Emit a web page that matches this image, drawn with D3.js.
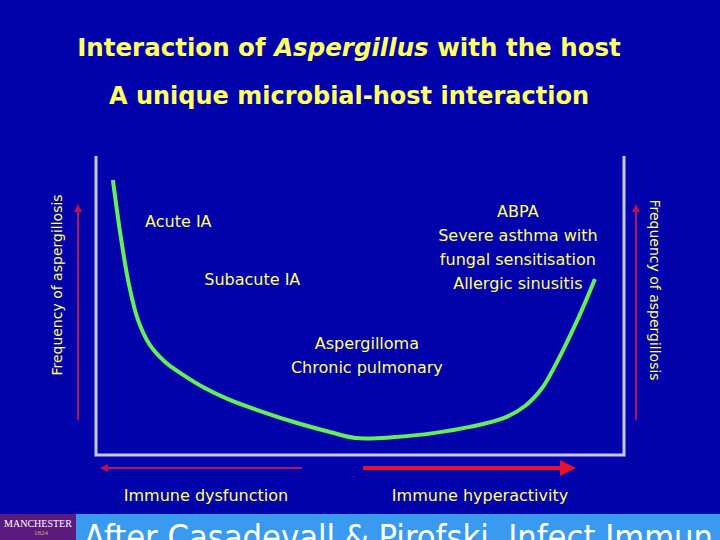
<!DOCTYPE html>
<html>
<head>
<meta charset="utf-8">
<script src="https://cdn.jsdelivr.net/npm/d3@7"></script>
<style>
  body { margin: 0; background: #0303ac; }
  svg { display: block; }
  text { font-family: "Comic Sans MS", "DejaVu Sans", sans-serif; fill: #ffff66; }
</style>
</head>
<body>
<div id="chart"></div>
<script>
// immune status (0 = dysfunction, 100 = hyperactivity) vs frequency of aspergillosis
var immuneStatus = [3.2, 4.7, 6.25, 7.95, 10.2, 13.1, 16.5, 20.6, 25.0, 31.1, 38.1, 44.3, 49.1,
                    56.6, 64.2, 70.8, 77.3, 81.25, 84.5, 87.1, 89.4, 91.7, 94.5];
var frequency = [92.0, 72.9, 56.9, 45.2, 36.8, 31.1, 26.8, 22.4, 18.7, 14.7, 10.7, 7.7, 5.7,
                 6.0, 7.4, 9.4, 12.4, 16.4, 22.4, 30.4, 38.5, 47.2, 58.9];

// disease labels: [x, y] in data units, lines of text, anchor
var diseaseLabels = [
  { x: 9.3, y: 78.3, lines: ["Acute IA"], anchor: "start" },
  { x: 20.5, y: 58.9, lines: ["Subacute IA"], anchor: "start" },
  { x: 79.9, y: 81.6, lines: ["ABPA", "Severe asthma with", "fungal sensitisation", "Allergic sinusitis"], anchor: "middle" },
  { x: 51.3, y: 37.5, lines: ["Aspergilloma", "Chronic pulmonary"], anchor: "middle" }
];

var title = "Interaction of ";
var titleItalic = "Aspergillus";
var titleEnd = " with the host";
var subtitle = "A unique microbial-host interaction";
var yLabel = "Frequency of aspergillosis";
var xLabels = ["Immune dysfunction", "Immune hyperactivity"];
var citation = "After Casadevall & Pirofski, Infect Immun";

var W = 720, H = 540;
var box = { left: 96, right: 624, top: 156, bottom: 455 };

var svg = d3.select("#chart")
    .append("svg")
    .attr("width", W)
    .attr("height", H);

svg.append("rect").attr("width", W).attr("height", H).attr("fill", "#0303ac");

var defs = svg.append("defs");
function marker(id, color) {
  defs.append("marker")
      .attr("id", id)
      .attr("viewBox", "0 0 10 10")
      .attr("refX", 5).attr("refY", 5)
      .attr("markerWidth", 4).attr("markerHeight", 4)
      .attr("orient", "auto")
      .append("path")
      .attr("d", "M0,0 L10,5 L0,10 z")
      .attr("fill", color);
}
marker("headDark", "#c0104a");
marker("headRed", "#e8102c");

var x = d3.scaleLinear().domain([0, 100]).range([box.left, box.right]);
var y = d3.scaleLinear().domain([0, 100]).range([box.bottom, box.top]);

// titles
var t = svg.append("text")
    .attr("x", 349).attr("y", 56)
    .attr("text-anchor", "middle")
    .style("font-size", "24.5px")
    .style("font-weight", "bold");
t.append("tspan").text(title);
t.append("tspan").style("font-style", "italic").text(titleItalic);
t.append("tspan").text(titleEnd);

svg.append("text")
    .attr("x", 349).attr("y", 104)
    .attr("text-anchor", "middle")
    .style("font-size", "24px")
    .style("font-weight", "bold")
    .text(subtitle);

// frame: left, bottom, right
svg.append("path")
    .attr("d", "M" + x(0) + "," + y(100) + "V" + y(0) + "H" + x(100) + "V" + y(100))
    .attr("fill", "none")
    .attr("stroke", "#c8c8f0")
    .attr("stroke-width", 3);

// vertical arrows
svg.append("line")
    .attr("x1", 78).attr("x2", 78)
    .attr("y1", 420).attr("y2", 208)
    .attr("stroke", "#a8185a").attr("stroke-width", 2)
    .attr("marker-end", "url(#headDark)");
svg.append("line")
    .attr("x1", 636).attr("x2", 636)
    .attr("y1", 420).attr("y2", 208)
    .attr("stroke", "#a8185a").attr("stroke-width", 2)
    .attr("marker-end", "url(#headDark)");

svg.append("text")
    .attr("transform", "translate(62,285) rotate(-90)")
    .attr("text-anchor", "middle")
    .style("font-size", "14px")
    .text(yLabel);
svg.append("text")
    .attr("transform", "translate(650,290) rotate(90)")
    .attr("text-anchor", "middle")
    .style("font-size", "14px")
    .text(yLabel);

// horizontal arrows
svg.append("line")
    .attr("x1", 302).attr("x2", 104)
    .attr("y1", 468).attr("y2", 468)
    .attr("stroke", "#b01a5a").attr("stroke-width", 2)
    .attr("marker-end", "url(#headDark)");
svg.append("line")
    .attr("x1", 363).attr("x2", 568)
    .attr("y1", 468).attr("y2", 468)
    .attr("stroke", "#e8102c").attr("stroke-width", 4)
    .attr("marker-end", "url(#headRed)");

svg.append("text")
    .attr("x", 206).attr("y", 501)
    .attr("text-anchor", "middle")
    .style("font-size", "16px")
    .text(xLabels[0]);
svg.append("text")
    .attr("x", 480).attr("y", 501)
    .attr("text-anchor", "middle")
    .style("font-size", "16px")
    .text(xLabels[1]);

// the curve
var curveData = immuneStatus.map(function (d, i) { return { x: d, y: frequency[i] }; });
svg.append("path")
    .datum(curveData)
    .attr("d", d3.line()
        .x(function (d) { return x(d.x); })
        .y(function (d) { return y(d.y); })
        .curve(d3.curveCatmullRom))
    .attr("fill", "none")
    .attr("stroke", "#66ee5a")
    .attr("stroke-width", 4);

// disease labels
diseaseLabels.forEach(function (d) {
  var tx = svg.append("text")
      .attr("text-anchor", d.anchor)
      .style("font-size", "16px");
  d.lines.forEach(function (line, i) {
    tx.append("tspan")
        .attr("x", x(d.x))
        .attr("y", y(d.y) + 6 + i * 24)
        .text(line);
  });
});

// bottom banner
svg.append("rect")
    .attr("x", 0).attr("y", 514).attr("width", W).attr("height", 26)
    .attr("fill", "#3a9af0");
svg.append("rect")
    .attr("x", 0).attr("y", 514).attr("width", 76).attr("height", 26)
    .attr("fill", "#5a1a7e");
svg.append("text")
    .attr("x", 38).attr("y", 527)
    .attr("text-anchor", "middle")
    .style("font-family", "'Liberation Serif', serif")
    .style("font-size", "10px")
    .style("fill", "#ffffff")
    .text("MANCHESTER");
svg.append("text")
    .attr("x", 41).attr("y", 535)
    .attr("text-anchor", "middle")
    .style("font-family", "'Liberation Serif', serif")
    .style("font-size", "7px")
    .style("fill", "#d8b060")
    .text("1824");
svg.append("text")
    .attr("x", 84).attr("y", 549)
    .attr("textLength", 629)
    .attr("lengthAdjust", "spacingAndGlyphs")
    .style("font-size", "33px")
    .style("fill", "#ffffff")
    .text(citation);
</script>
</body>
</html>
